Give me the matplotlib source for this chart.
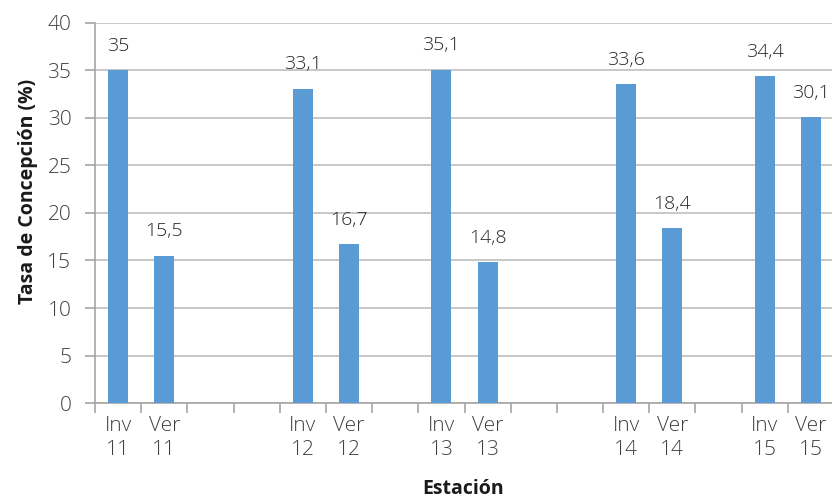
import numpy as np
import matplotlib
matplotlib.use("Agg")
import matplotlib.pyplot as plt
from matplotlib.ticker import FixedLocator

# estaciones (los huecos vacíos son posiciones sin dato)
estaciones = ["Inv\n11", "Ver\n11", "", "", "Inv\n12", "Ver\n12", "", "Inv\n13", "Ver\n13",
              "", "", "Inv\n14", "Ver\n14", "", "Inv\n15", "Ver\n15"]
tasas = [35, 15.5, None, None, 33.1, 16.7, None, 35.1, 14.8,
         None, None, 33.6, 18.4, None, 34.4, 30.1]
yticks = [0, 5, 10, 15, 20, 25, 30, 35, 40]

plt.rcParams['font.family'] = ['Open Sans', 'DejaVu Sans']

fig = plt.figure(figsize=(8.32, 4.98), dpi=100)
ax = fig.add_axes([95 / 832, 95 / 498, 739 / 832, 380 / 498])

x = np.arange(len(estaciones))
alturas = [np.nan if v is None else v for v in tasas]
ax.bar(x, alturas, width=0.43, color='#5b9bd5', zorder=3)

for xi, v in zip(x, tasas):
    if v is None:
        continue
    txt = f"{v:g}".replace(".", ",")
    ax.annotate(txt, (xi, v), xytext=(0, 11), textcoords='offset points',
                ha='center', va='bottom', fontsize=14, fontweight='light',
                color='#262626')

ax.set_xlim(-0.5, len(estaciones) - 0.5)
ax.set_ylim(0, 40)
ax.set_yticks(yticks)
ax.set_xticks(x)
ax.set_xticklabels(estaciones, fontsize=15, fontweight='light', color='#404040',
                   linespacing=1.3)
ax.xaxis.set_minor_locator(FixedLocator(np.arange(-0.5, len(estaciones), 1)))
ax.tick_params(axis='x', which='major', length=0, pad=9)
ax.tick_params(axis='x', which='minor', length=7, width=1.2, color='#a6a6a6')
ax.tick_params(axis='y', length=7, width=1.2, color='#a6a6a6', pad=10,
               labelsize=15, labelcolor='#404040')
for lbl in ax.get_yticklabels():
    lbl.set_fontweight('light')

ax.grid(axis='y', color='#bfbfbf', linewidth=1.2, zorder=0)
for s in ['top', 'right']:
    ax.spines[s].set_visible(False)
for s in ['left', 'bottom']:
    ax.spines[s].set_color('#a6a6a6')
    ax.spines[s].set_linewidth(1.2)

ax.set_ylabel("Tasa de Concepción (%)", fontsize=14, fontweight='bold', color='#1a1a1a')
ax.yaxis.set_label_coords(-0.077, 0.558)
ax.set_xlabel("Estación", fontsize=14, fontweight='bold', color='#1a1a1a')
ax.xaxis.set_label_coords(0.498, -0.2)

fig.savefig("out.png", dpi=100)
